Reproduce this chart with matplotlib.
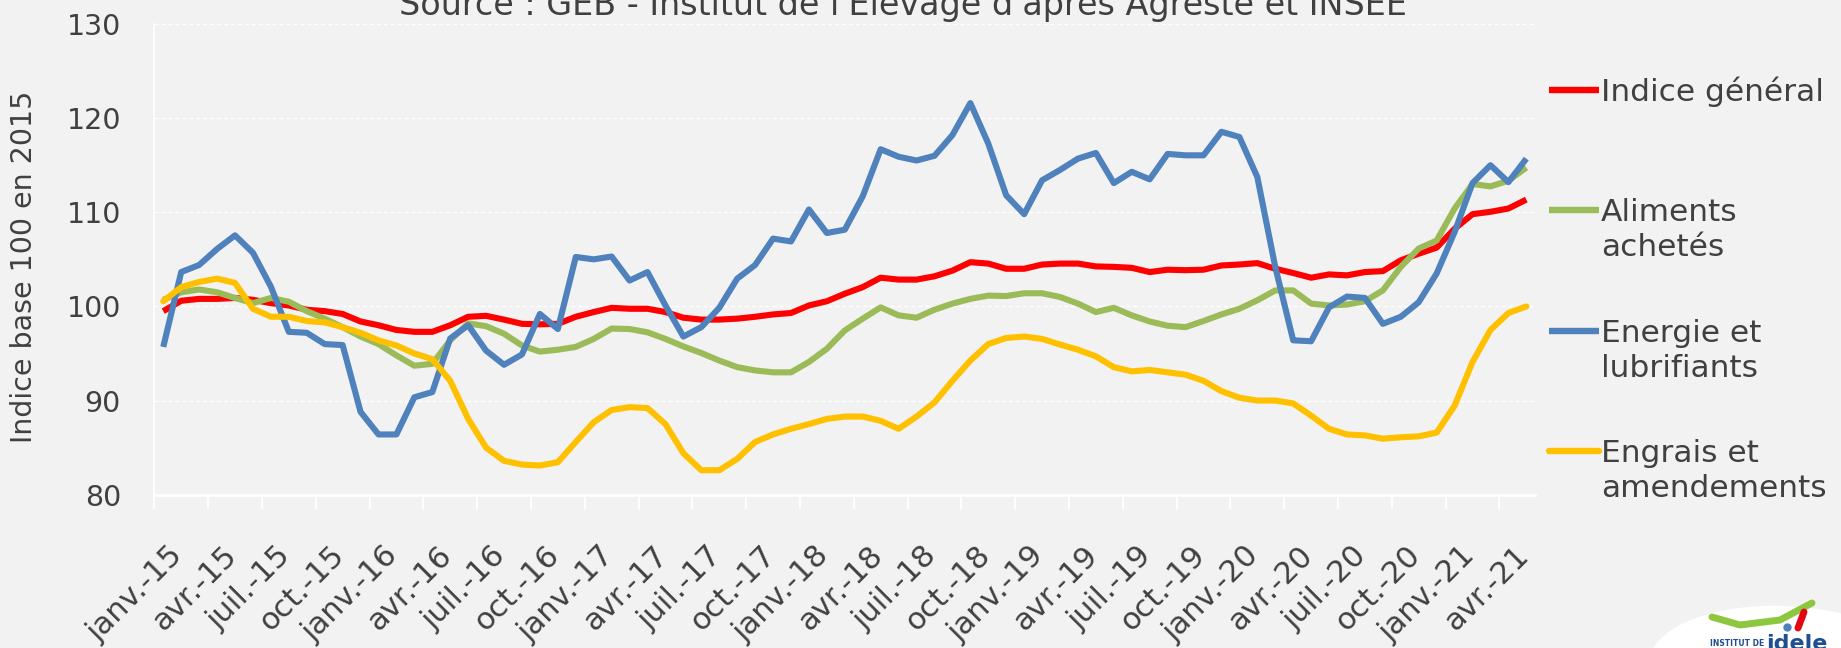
import matplotlib.pyplot as plt
import matplotlib.transforms as mtransforms
from matplotlib.lines import Line2D
from matplotlib.patches import Ellipse

# Indices des prix d'achat des moyens de production agricole (base 100 en 2015)
# mois de janv.-15 à mai-21
indice_general = [99.5, 100.6, 100.8, 100.8, 100.9, 100.7, 100.35, 100.1, 99.65, 99.5,
                  99.2, 98.4, 98.0, 97.5, 97.3, 97.3, 98.0, 98.9, 99.0, 98.6,
                  98.15, 98.1, 98.15, 98.9, 99.4, 99.85, 99.75, 99.75, 99.4, 98.8,
                  98.6, 98.6, 98.7, 98.9, 99.15, 99.3, 100.1, 100.55, 101.35, 102.05,
                  103.05, 102.85, 102.85, 103.2, 103.8, 104.7, 104.55, 104.0, 104.0, 104.45,
                  104.55, 104.55, 104.25, 104.2, 104.1, 103.65, 103.9, 103.85, 103.9, 104.35,
                  104.45, 104.6, 104.0, 103.55, 103.05, 103.4, 103.3, 103.65, 103.75, 104.9,
                  105.6, 106.25, 108.25, 109.8, 110.05, 110.4, 111.35]
aliments = [100.7, 101.5, 101.8, 101.5, 100.9, 100.35, 100.9, 100.5, 99.5, 98.7,
            97.8, 96.8, 96.0, 94.8, 93.7, 93.9, 96.4, 98.2, 97.9, 97.1,
            95.85, 95.2, 95.4, 95.7, 96.55, 97.65, 97.6, 97.25, 96.55, 95.75,
            95.05, 94.25, 93.55, 93.2, 93.0, 93.0, 94.1, 95.5, 97.45, 98.7,
            99.9, 99.05, 98.8, 99.65, 100.3, 100.8, 101.15, 101.1, 101.4, 101.4,
            101.0, 100.3, 99.4, 99.85, 99.05, 98.4, 97.95, 97.8, 98.45, 99.15,
            99.75, 100.65, 101.7, 101.7, 100.3, 100.1, 100.2, 100.55, 101.7, 104.2,
            106.15, 107.0, 110.4, 113.0, 112.75, 113.35, 114.75]
energie = [95.7, 103.65, 104.4, 106.1, 107.55, 105.7, 102.1, 97.3, 97.2, 96.0,
           95.9, 88.8, 86.4, 86.4, 90.35, 90.9, 96.6, 98.0, 95.3, 93.8,
           94.9, 99.2, 97.6, 105.25, 105.0, 105.3, 102.75, 103.65, 100.1, 96.8,
           97.8, 99.85, 102.95, 104.4, 107.2, 106.9, 110.3, 107.8, 108.15, 111.7,
           116.7, 115.9, 115.5, 116.0, 118.2, 121.6, 117.3, 111.8, 109.8, 113.4,
           114.5, 115.7, 116.3, 113.1, 114.3, 113.5, 116.2, 116.05, 116.05, 118.55,
           118.0, 113.75, 104.2, 96.4, 96.3, 99.9, 101.05, 100.9, 98.15, 98.9,
           100.45, 103.5, 107.9, 113.1, 115.0, 113.2, 115.7]
engrais = [100.55, 102.05, 102.6, 102.95, 102.5, 99.75, 98.9, 98.9, 98.45, 98.3,
           97.8, 97.2, 96.4, 95.85, 95.0, 94.4, 92.1, 88.05, 85.0, 83.6,
           83.2, 83.1, 83.45, 85.6, 87.7, 89.0, 89.3, 89.2, 87.5, 84.4,
           82.6, 82.6, 83.8, 85.6, 86.4, 87.0, 87.5, 88.05, 88.3, 88.3,
           87.85, 87.0, 88.3, 89.8, 92.1, 94.25, 96.0, 96.65, 96.8, 96.55,
           95.95, 95.4, 94.7, 93.55, 93.1, 93.25, 93.0, 92.75, 92.1, 91.0,
           90.3, 90.0, 90.0, 89.7, 88.4, 87.0, 86.4, 86.3, 85.95, 86.1,
           86.2, 86.6, 89.45, 94.1, 97.5, 99.3, 100.0]

etiquettes = ["janv.-15", "avr.-15", "juil.-15", "oct.-15",
              "janv.-16", "avr.-16", "juil.-16", "oct.-16",
              "janv.-17", "avr.-17", "juil.-17", "oct.-17",
              "janv.-18", "avr.-18", "juil.-18", "oct.-18",
              "janv.-19", "avr.-19", "juil.-19", "oct.-19",
              "janv.-20", "avr.-20", "juil.-20", "oct.-20",
              "janv.-21", "avr.-21"]

series = [("Indice général", indice_general, "#FF0000"),
          ("Aliments\nachetés", aliments, "#9BBB59"),
          ("Energie et\nlubrifiants", energie, "#4F81BD"),
          ("Engrais et\namendements", engrais, "#FFC000")]

fond = "#F2F2F2"
gris = "#404040"
W, H = 1841, 648

fig = plt.figure(figsize=(W / 100, H / 100), dpi=100, facecolor=fond)
ax = fig.add_axes([154.3 / W, 1 - 494.7 / H, 1381 / W, 470.7 / H], facecolor=fond)

x = list(range(len(indice_general)))
for nom, y, c in series:
    cap = "round" if c == "#FFC000" else "butt"
    ax.plot(x, y, color=c, lw=4.4, solid_joinstyle="round", solid_capstyle=cap)

ax.set_xlim(-0.5, len(x) - 0.5)
ax.set_ylim(80, 130)
ax.set_yticks([80, 90, 100, 110, 120, 130])
ax.tick_params(axis="y", length=0, pad=24, labelsize=20.5, labelcolor=gris)
for v in [90, 100, 110, 120, 130]:
    ax.axhline(v, color="white", lw=1, ls=(0, (3, 2)), zorder=0)

ax.set_xticks(range(0, len(x), 3))
ax.set_xticklabels(etiquettes, rotation=45, ha="right", va="top",
                   rotation_mode="anchor", fontsize=22, color=gris)
ax.tick_params(axis="x", which="major", length=0, pad=33)
decalage = mtransforms.ScaledTranslation(5 / 100, 0, fig.dpi_scale_trans)
for lab in ax.get_xticklabels():
    lab.set_transform(lab.get_transform() + decalage)
ax.set_xticks([i - 0.5 for i in range(0, len(x), 3)], minor=True)
ax.tick_params(axis="x", which="minor", length=10, width=1.3, color="white")

for s in ["top", "right"]:
    ax.spines[s].set_visible(False)
ax.spines["left"].set_color("white")
ax.spines["left"].set_linewidth(1.2)
ax.spines["bottom"].set_color("white")
ax.spines["bottom"].set_linewidth(2)

fig.text(903 / W, 1 - 15 / H, "Source : GEB - Institut de l'Elevage d'après Agreste et INSEE",
         ha="center", va="baseline", fontsize=24, color=gris)
fig.text(24 / W, 1 - 267 / H, "Indice base 100 en 2015", rotation=90,
         ha="center", va="center", fontsize=20.5, color=gris)

# légende à droite
for k, (nom, y, c) in enumerate(series):
    yh = 90 + 120.3 * k
    cap = "round" if c == "#FFC000" else "butt"
    fig.add_artist(Line2D([1549 / W, 1599 / W], [1 - yh / H, 1 - yh / H],
                          color=c, lw=4.6, solid_capstyle=cap))
    for j, ligne in enumerate(nom.split("\n")):
        fig.text(1601 / W, 1 - (yh + 11 + 35 * j) / H, ligne,
                 ha="left", va="baseline", fontsize=22.5, color=gris)

# logo idele
fig.add_artist(Ellipse((1785 / W, 1 - 668 / H), 270 / W, 125 / H, angle=8,
                       transform=fig.transFigure, facecolor="white", edgecolor="none"))
fig.add_artist(Line2D([1712 / W, 1740 / W, 1780 / W, 1812 / W],
                      [1 - 617 / H, 1 - 625 / H, 1 - 620 / H, 1 - 603 / H],
                      color="#8DC63F", lw=5, solid_capstyle="round"))
fig.add_artist(Line2D([1804 / W, 1798 / W], [1 - 612 / H, 1 - 628 / H],
                      color="#E30613", lw=5, solid_capstyle="round"))
fig.add_artist(Line2D([1787 / W], [1 - 627 / H], marker="o", markersize=5,
                      color="#4F81BD", linestyle="none"))
fig.text(1710 / W, 1 - 646 / H, "INSTITUT DE", fontsize=5.5, fontweight="bold",
         color="#1D4F91", ha="left", va="baseline")
fig.text(1766 / W, 1 - 650 / H, "idele", fontsize=16, fontweight="bold",
         color="#1D4F91", ha="left", va="baseline")

fig.savefig("out.png", dpi=100, facecolor=fond)
